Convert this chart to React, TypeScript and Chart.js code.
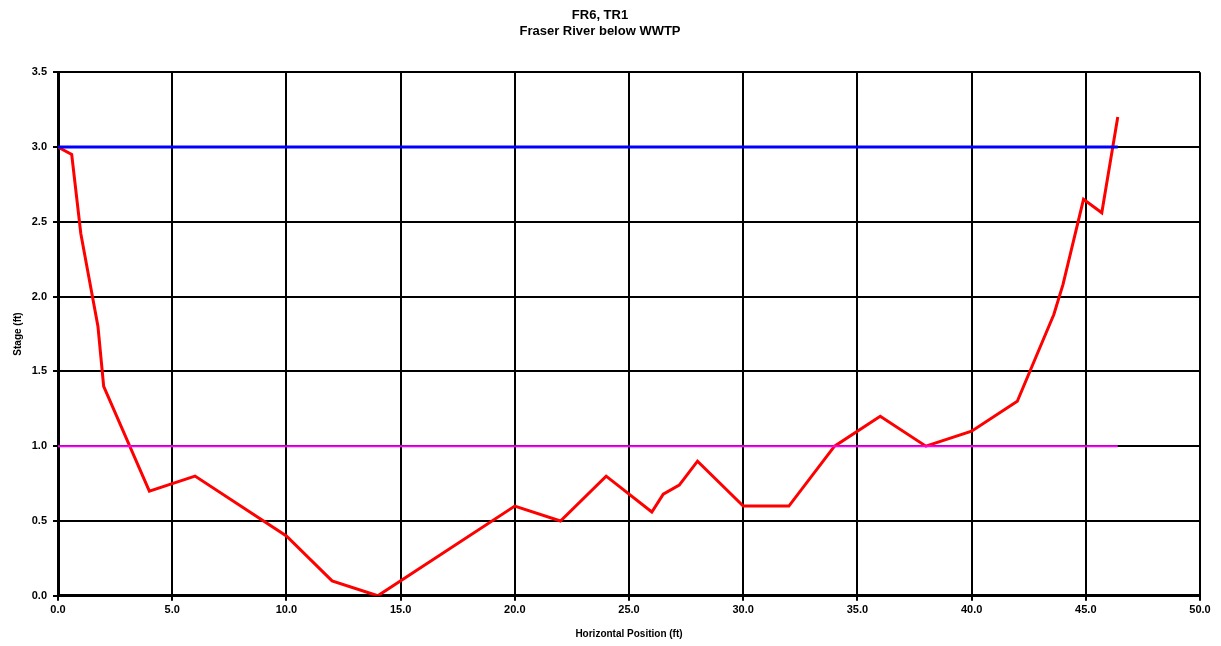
import React, { useEffect, useRef } from "react";
import { Chart, registerables } from "chart.js";

Chart.register(...registerables);

const titleLines = ["FR6, TR1", "Fraser River below WWTP"];
const xTitle = "Horizontal Position (ft)";
const yTitle = "Stage (ft)";

const stationX = [0, 0.6, 1.0, 1.75, 2.0, 4.0, 6.0, 10.0, 12.0, 14.0, 20.0, 22.0, 24.0, 26.0, 26.5, 27.2, 28.0, 30.0, 32.0, 34.0, 36.0, 38.0, 40.0, 42.0, 43.6, 44.0, 44.9, 45.7, 46.4];
const stationY = [3.0, 2.95, 2.42, 1.8, 1.4, 0.7, 0.8, 0.4, 0.1, 0.0, 0.6, 0.5, 0.8, 0.56, 0.68, 0.74, 0.9, 0.6, 0.6, 1.0, 1.2, 1.0, 1.1, 1.3, 1.88, 2.08, 2.65, 2.56, 3.2];

const topLineX = [0, 46.4];
const topLineY = [3.0, 3.0];
const lowLineX = [0, 46.4];
const lowLineY = [1.0, 1.0];

const xMin = 0, xMax = 50, xStep = 5;
const yMin = 0, yMax = 3.5, yStep = 0.5;

const zip = (xs: number[], ys: number[]) => xs.map((x, i) => ({ x, y: ys[i] }));

export default function App() {
  const ref = useRef<HTMLCanvasElement | null>(null);
  useEffect(() => {
    document.body.style.margin = "0";
    const font = "'Liberation Sans', Arial, sans-serif";
    const chart = new Chart(ref.current!, {
      type: "scatter",
      data: {
        datasets: [
          { data: zip(topLineX, topLineY), showLine: true, borderColor: "#0000ff", borderWidth: 3, pointRadius: 0 },
          { data: zip(lowLineX, lowLineY), showLine: true, borderColor: "#ff00ff", borderWidth: 2, pointRadius: 0 },
          { data: zip(stationX, stationY), showLine: true, borderColor: "#ff0000", borderWidth: 3, pointRadius: 0 },
        ],
      },
      options: {
        animation: false,
        responsive: false,
        layout: { padding: { left: 0, right: 21, top: 8, bottom: 6 } },
        plugins: {
          legend: { display: false },
          tooltip: { enabled: false },
          title: {
            display: true,
            text: titleLines,
            color: "#000",
            font: { family: font, size: 13, weight: "bold", lineHeight: 1.2 },
            padding: { top: 0, bottom: 33 },
          },
        },
        scales: {
          x: {
            type: "linear",
            min: xMin,
            max: xMax,
            ticks: { stepSize: xStep, color: "#000", font: { family: font, size: 11, weight: "bold" }, callback: (v: any) => Number(v).toFixed(1), maxRotation: 0, padding: 3 },
            grid: { color: "#000", lineWidth: 2, tickLength: 5 },
            border: { color: "#000", width: 3 },
            title: { display: true, text: xTitle, color: "#000", font: { family: font, size: 10, weight: "bold" }, padding: { top: 8, bottom: 0 } },
          },
          y: {
            type: "linear",
            min: yMin,
            max: yMax,
            afterFit: (s: any) => { s.width = 58; },
            ticks: { stepSize: yStep, color: "#000", font: { family: font, size: 11, weight: "bold" }, callback: (v: any) => Number(v).toFixed(1), padding: 6 },
            grid: { color: "#000", lineWidth: 2, tickLength: 5 },
            border: { color: "#000", width: 3 },
            title: { display: true, text: yTitle, color: "#000", font: { family: font, size: 10, weight: "bold" }, padding: { top: 12, bottom: 0 } },
          },
        },
      },
    });
    return () => chart.destroy();
  }, []);
  return (
    <div style={{ width: 1221, height: 646, background: "#fff" }}>
      <canvas ref={ref} width={1221} height={646} style={{ display: "block" }} />
    </div>
  );
}
